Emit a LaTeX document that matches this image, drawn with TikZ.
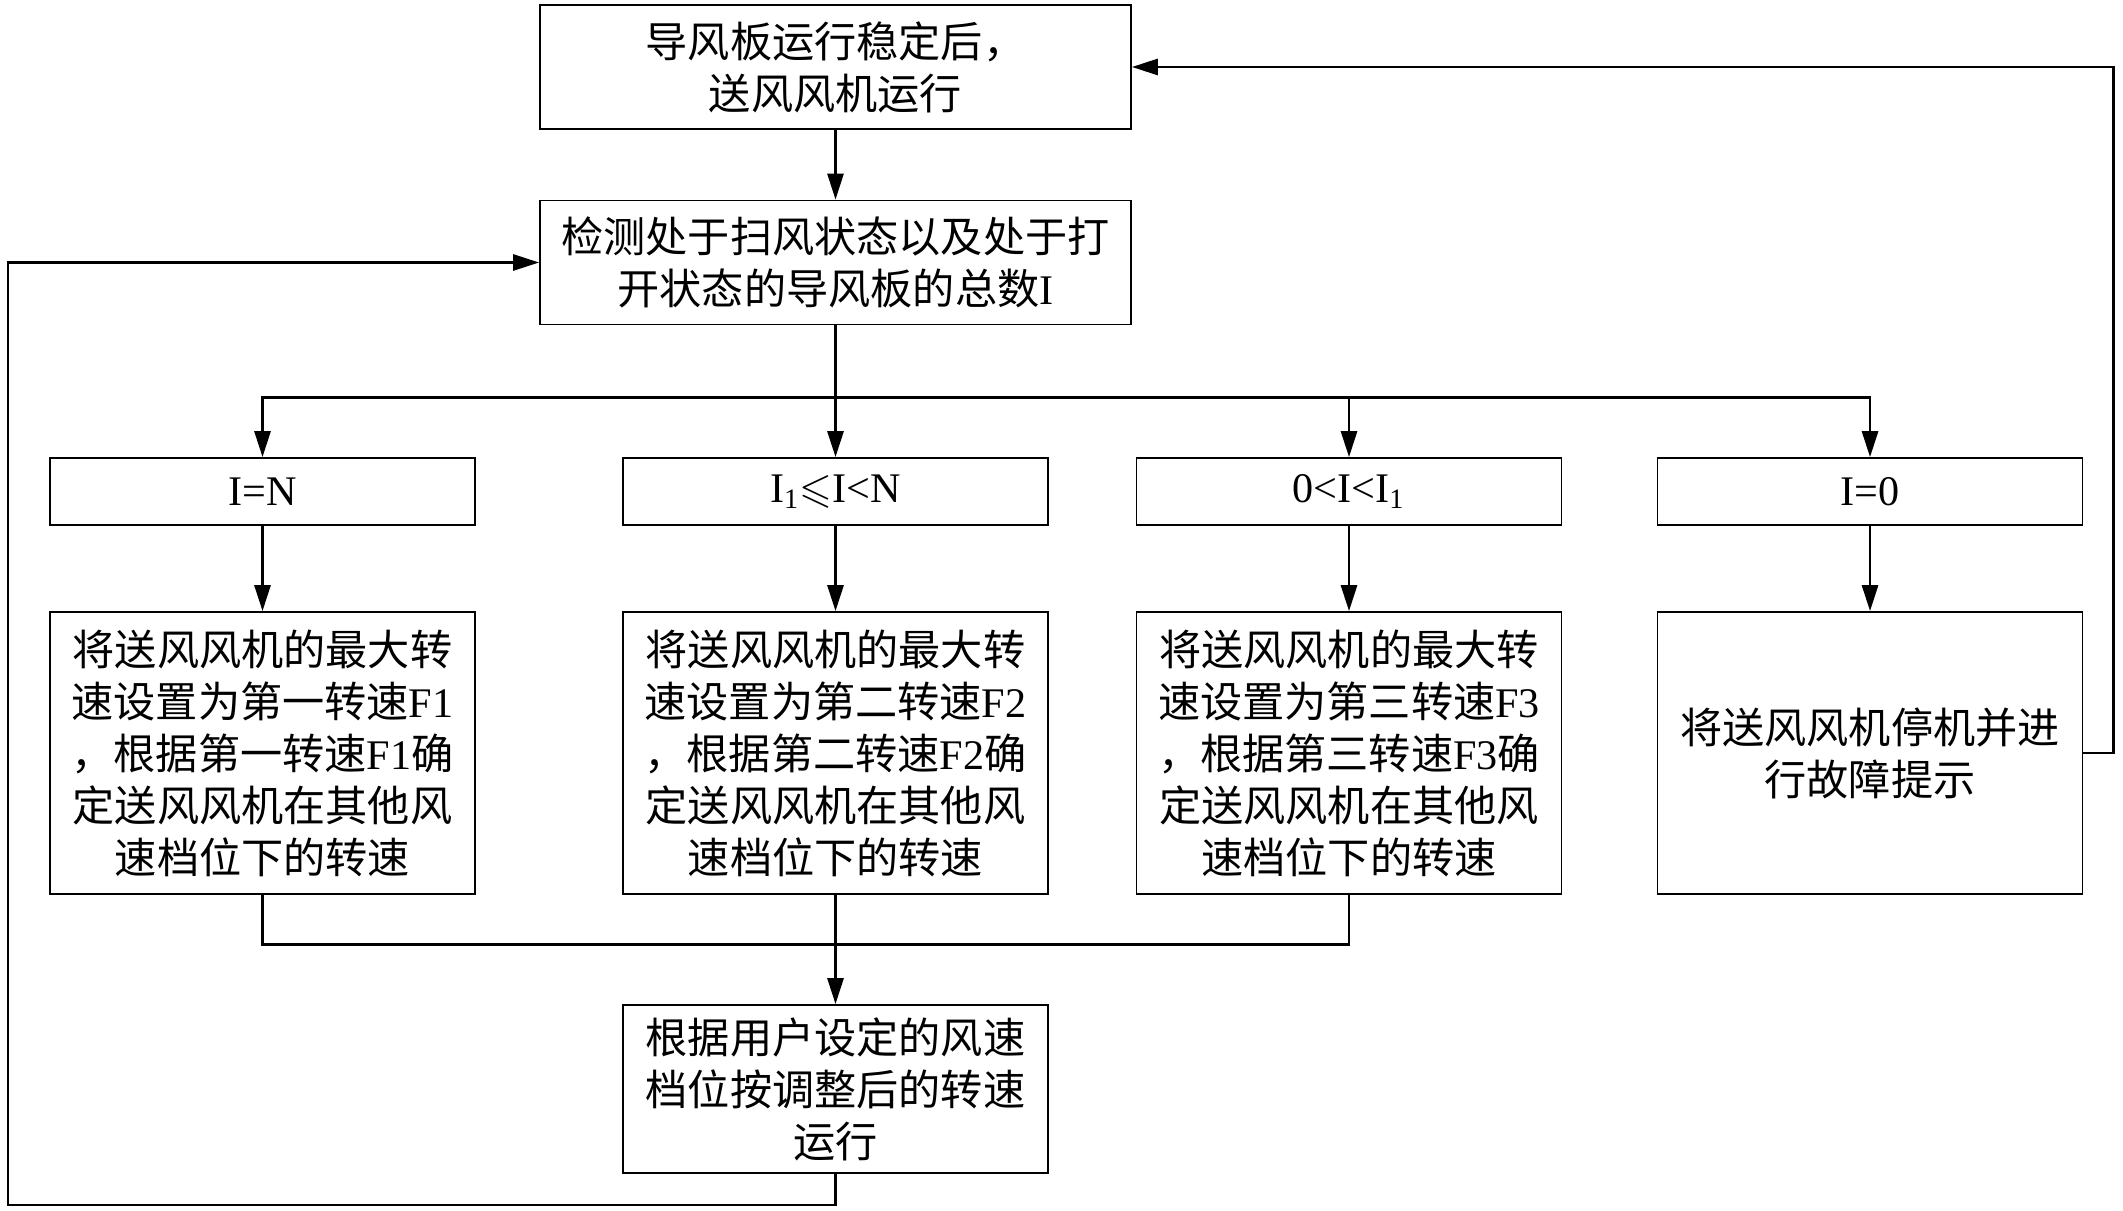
\documentclass[tikz,border=0pt]{standalone}
\usepackage{fontspec}
\usepackage{amssymb}
\setmainfont{Liberation Serif}
\newfontfamily\cjk{Noto Sans CJK SC}
\newcommand{\latn}[1]{{\rmfamily #1}}
\usetikzlibrary{arrows.meta}

\begin{document}
\begin{tikzpicture}[line width=0.8pt,
  box/.style={draw, line width=0.5pt, align=center, inner sep=2pt,
    font=\cjk\fontsize{12}{14.8}\selectfont},
  wide/.style={box, minimum width=5.91cm, minimum height=1.24cm},
  cond/.style={box, minimum width=4.25cm, minimum height=0.67cm,
    font=\rmfamily\fontsize{12}{14.8}\selectfont},
  act/.style={box, minimum width=4.25cm, minimum height=2.82cm},
  arr/.style={-{Triangle[length=0.26cm, width=0.16cm]}}]

\useasboundingbox (0,0) rectangle (21.23,-12.10);

\node (1) [wide] at (8.355,-0.67) {导风板运行稳定后，\\送风风机运行};
\node (2) [wide, node distance=1.955cm, below of=1] {检测处于扫风状态以及处于打\\开状态的导风板的总数\latn{I}};
\node (c2) [cond, node distance=2.29cm, below of=2] {I\textsubscript{1}$\leqslant$I<N};
\node (c1) [cond, node distance=5.73cm, left of=c2] {I=N};
\node (c3) [cond, node distance=5.135cm, right of=c2] {0<I<I\textsubscript{1}};
\node (c4) [cond, node distance=5.21cm, right of=c3] {I=0};
\node (d1) [act, node distance=2.615cm, below of=c1] {将送风风机的最大转\\速设置为第一转速\latn{F1}\\，根据第一转速\latn{F1}确\\定送风风机在其他风\\速档位下的转速};
\node (d2) [act, node distance=2.615cm, below of=c2] {将送风风机的最大转\\速设置为第二转速\latn{F2}\\，根据第二转速\latn{F2}确\\定送风风机在其他风\\速档位下的转速};
\node (d3) [act, node distance=2.615cm, below of=c3] {将送风风机的最大转\\速设置为第三转速\latn{F3}\\，根据第三转速\latn{F3}确\\定送风风机在其他风\\速档位下的转速};
\node (d4) [act, node distance=2.615cm, below of=c4] {将送风风机停机并进\\行故障提示};
\node (3) [act, minimum height=1.68cm, node distance=3.36cm, below of=d2] {根据用户设定的风速\\档位按调整后的转速\\运行};
\coordinate (back) at (0.08,-12.05);

\draw[arr] (1) -- (2);
\draw[arr] (2) -- (c2);
\draw[arr] (2.south) -- ++(0,-0.72) -| (c1);
\draw[arr] (2.south) -- ++(0,-0.72) -| (c3);
\draw[arr] (2.south) -- ++(0,-0.72) -| (c4);
\draw[arr] (c1) -- (d1);
\draw[arr] (c2) -- (d2);
\draw[arr] (c3) -- (d3);
\draw[arr] (c4) -- (d4);
\draw (d1.south) -- ++(0,-0.5) -| (d3.south);
\draw[arr] (d2) -- (3);
\draw[arr] (3.south) |- (back) |- (2.west);
\draw[arr] (d4.east) -- ++(0.3,0) |- (1.east);
\end{tikzpicture}
\end{document}
